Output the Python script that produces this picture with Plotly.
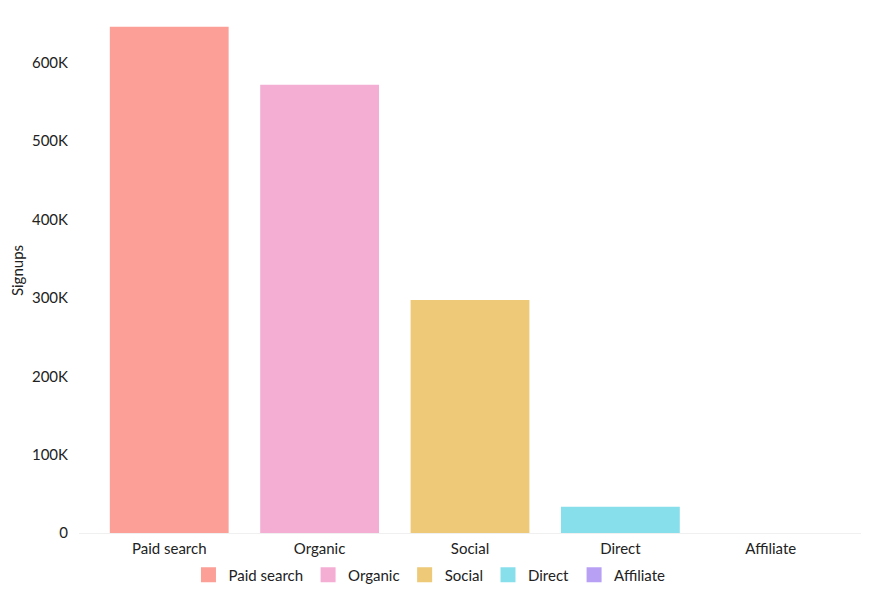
import plotly.graph_objects as go

channels = ["Paid search", "Organic", "Social", "Direct", "Affiliate"]
signups = [646000, 572000, 297500, 33500, 0]
colors = ["#FB9F97", "#F4AED4", "#EDC978", "#88DFEC", "#B8A0F5"]

fig = go.Figure()
for name, value, color in zip(channels, signups, colors):
    fig.add_trace(go.Bar(
        x=[name], y=[value], name=name, showlegend=False, legendgroup=name,
        marker=dict(color=color, line=dict(width=0)),
        width=0.79,
    ))
    # legend entry with a bigger square swatch
    fig.add_trace(go.Scatter(
        x=[None], y=[None], mode="markers", name=name, legendgroup=name,
        marker=dict(symbol="square", size=15, color=color),
    ))

fig.update_layout(
    width=869, height=608,
    barmode="overlay",
    plot_bgcolor="white", paper_bgcolor="white",
    font=dict(family="Lato", size=15, color="#222"),
    margin=dict(l=71, r=16, t=0, b=83, autoexpand=False),
    legend=dict(
        orientation="h", xref="container", x=0.485, xanchor="center",
        yref="container", y=0.0674, yanchor="middle",
        font=dict(size=15), itemwidth=30, tracegroupgap=0,
    ),
    xaxis=dict(
        categoryorder="array", categoryarray=channels,
        range=[-0.6, 4.6], showgrid=False, automargin=False,
        showline=True, linecolor="#f0f0f0", linewidth=1,
        ticks="", ticklabelstandoff=2,
    ),
    yaxis=dict(
        title=dict(text="Signups", standoff=46, font=dict(size=15)),
        automargin=False,
        range=[0, 670000], showgrid=False, zeroline=False,
        tickvals=[0, 100000, 200000, 300000, 400000, 500000, 600000],
        ticktext=["0", "100K", "200K", "300K", "400K", "500K", "600K"],
        ticks="", ticklabelstandoff=10,
    ),
)

fig.write_html("out.html")
